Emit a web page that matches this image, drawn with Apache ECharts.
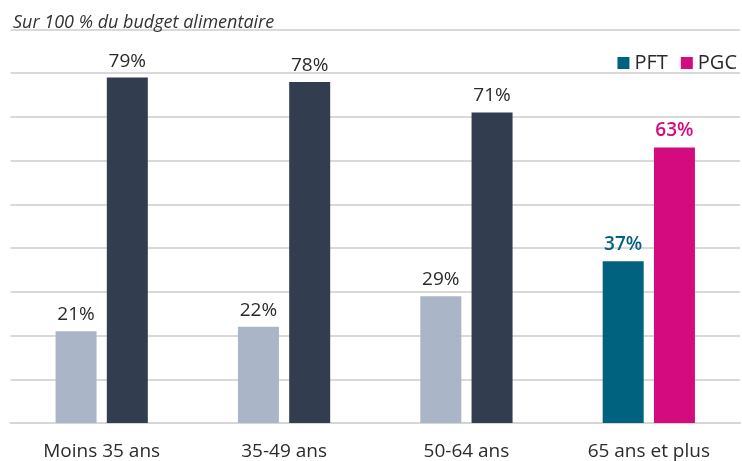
<!DOCTYPE html>
<html>
<head>
<meta charset="utf-8">
<script src="https://cdn.jsdelivr.net/npm/echarts@6/dist/echarts.min.js"></script>
<style>
  html, body { margin: 0; padding: 0; background: #ffffff; }
  #chart { width: 742px; height: 461px; }
</style>
</head>
<body>
<div id="chart"></div>
<script>
// Share of the food budget by age group
const categories = ['Moins 35 ans', '35-49 ans', '50-64 ans', '65 ans et plus'];
const pftValues = [21, 22, 29, 37];
const pgcValues = [79, 78, 71, 63];
const seriesNames = ['PFT', 'PGC'];

const FONT = '"Open Sans", Lato, sans-serif';
const PFT_COLOR = '#00627e';
const PGC_COLOR = '#d40a7f';
const MUTED_LIGHT = '#aab6c8';
const MUTED_DARK = '#333d50';
const TEXT = '#2b2b2b';

// Only the last group is highlighted; earlier groups are muted
const highlightIndex = categories.length - 1;

function buildItems(values, baseColor, mutedColor) {
  return values.map((v, i) => {
    const hi = i === highlightIndex;
    return {
      value: v,
      itemStyle: { color: hi ? baseColor : mutedColor },
      label: {
        color: hi ? baseColor : TEXT,
        fontWeight: hi ? 600 : 'normal'
      }
    };
  });
}

const chart = echarts.init(document.getElementById('chart'), null, { renderer: 'canvas' });

const labelCommon = {
  show: true,
  position: 'top',
  distance: 7,
  fontFamily: FONT,
  fontSize: 19,
  formatter: p => p.value + '%'
};

chart.setOption({
  animation: false,
  backgroundColor: '#ffffff',
  title: {
    text: 'Sur 100 % du budget alimentaire',
    left: 8,
    top: 9,
    textStyle: {
      fontFamily: FONT,
      fontStyle: 'italic',
      fontWeight: 'normal',
      fontSize: 18,
      color: '#333333'
    }
  },
  legend: {
    data: seriesNames,
    right: 0,
    top: 48,
    itemWidth: 12,
    itemHeight: 12,
    itemGap: 13,
    icon: 'rect',
    textStyle: { fontFamily: FONT, fontSize: 20, color: TEXT }
  },
  grid: { left: 10.5, right: 2, top: 29.5, bottom: 38, containLabel: false },
  xAxis: {
    type: 'category',
    data: categories,
    axisLine: { show: true, lineStyle: { color: '#d6d6d6', width: 2 } },
    axisTick: { show: false },
    axisLabel: {
      fontFamily: FONT,
      fontSize: 19,
      color: TEXT,
      margin: 19
    }
  },
  yAxis: {
    type: 'value',
    min: 0,
    max: 90,
    interval: 10,
    axisLabel: { show: false },
    axisLine: { show: false },
    axisTick: { show: false },
    splitLine: { lineStyle: { color: '#d9d9d9', width: 2 } }
  },
  series: [
    {
      name: seriesNames[0],
      type: 'bar',
      barWidth: 41,
      barGap: '25%',
      itemStyle: { color: PFT_COLOR },
      label: labelCommon,
      data: buildItems(pftValues, PFT_COLOR, MUTED_LIGHT)
    },
    {
      name: seriesNames[1],
      type: 'bar',
      barWidth: 41,
      itemStyle: { color: PGC_COLOR },
      label: labelCommon,
      data: buildItems(pgcValues, PGC_COLOR, MUTED_DARK)
    }
  ]
});
</script>
</body>
</html>
